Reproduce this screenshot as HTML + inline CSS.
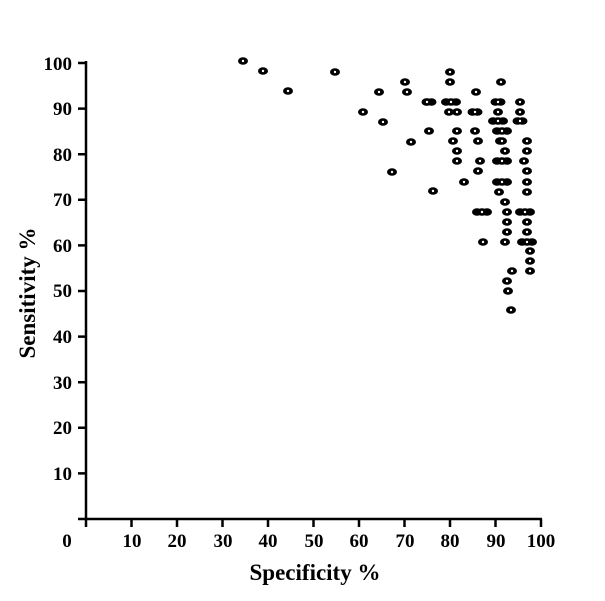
<!DOCTYPE html><html><head><style>body{margin:0;background:#fff}svg{display:block}text{font-family:"Liberation Serif",serif;font-weight:bold;fill:#000}</style></head><body>
<svg width="605" height="601" viewBox="0 0 605 601" xmlns="http://www.w3.org/2000/svg">
<g stroke="#000" stroke-width="2.5" fill="none">
<line x1="86" y1="61" x2="86" y2="520"/><line x1="85" y1="519" x2="542" y2="519"/>
<path d="M78 63H86M78 108.6H86M78 154.2H86M78 199.8H86M78 245.4H86M78 291H86M78 336.6H86M78 382.2H86M78 427.8H86M78 473.4H86M78 519H86"/>
<path d="M86 519V527M131.5 519V527M177 519V527M222.5 519V527M268 519V527M313.5 519V527M359 519V527M404.5 519V527M450 519V527M495.5 519V527M541 519V527"/>
</g>
<g font-size="19" text-anchor="end">
<text x="72" y="70">100</text><text x="72" y="115">90</text><text x="72" y="161">80</text><text x="72" y="206">70</text><text x="72" y="252">60</text><text x="72" y="297">50</text><text x="72" y="343">40</text><text x="72" y="389">30</text><text x="72" y="434">20</text><text x="72" y="480">10</text>
</g>
<g font-size="19" text-anchor="middle">
<text x="67" y="547">0</text><text x="132" y="547">10</text><text x="177" y="547">20</text><text x="223" y="547">30</text><text x="268" y="547">40</text><text x="314" y="547">50</text><text x="359" y="547">60</text><text x="405" y="547">70</text><text x="450" y="547">80</text><text x="496" y="547">90</text><text x="541" y="547">100</text>
</g>
<text x="315" y="580" font-size="23" text-anchor="middle">Specificity %</text>
<text transform="translate(35,293) rotate(-90)" font-size="23" text-anchor="middle">Sensitivity %</text>
<g id="pts"></g>
</svg>
<script>
var P=[[243,61,1],[263,71,1],[335,72,1],[288,91,1],[405,82,1],[379,92,1],[407,92,1],[363,112,1],[383,122,1],[411,142,1],[392,172,1],[433,191,1],[429,102,2],
[450,72,1],[450,82,1],[501,82,1],[476,92,1],[427,102,1],[451,102,3],[498,102,2],[520,102,1],[449,112,1],[457,112,1],[475,112,2],[498,121,3],[520,121,2],[520,112,1],[429,131,1],[457,131,1],[475,131,1],[502,131,3],[453,141,1],[478,141,1],[500,141,1],[527,141,1],[457,151,1],[505,151,1],[527,151,1],[457,161,1],[480,161,1],[502,161,3],[524,161,1],[478,171,1],[527,171,1],[464,182,1],[502,182,3],[527,182,1],[499,192,1],[527,192,1],[505,202,1],[482,212,3],[507,212,1],[525,212,3],[507,222,1],[527,222,1],[507,232,1],[527,232,1],[483,242,1],[505,242,1],[527,242,3],[530,251,1],[530,261,1],[512,271,1],[530,271,1],[507,281,1],[508,291,1],[511,310,1],[498,112,1],[502,141,1]];
var g=document.getElementById('pts'),s='';
P.forEach(function(p){var w=p[2];for(var i=0;i<w;i++){var x=p[0]+(i-(w-1)/2)*5;s+='<ellipse cx="'+x+'" cy="'+p[1]+'" rx="5" ry="3.8" fill="#000"/>';}
s+='<circle cx="'+p[0]+'" cy="'+p[1]+'" r="1.2" fill="#fff"/>';});
g.innerHTML=s;
</script>
</body></html>
